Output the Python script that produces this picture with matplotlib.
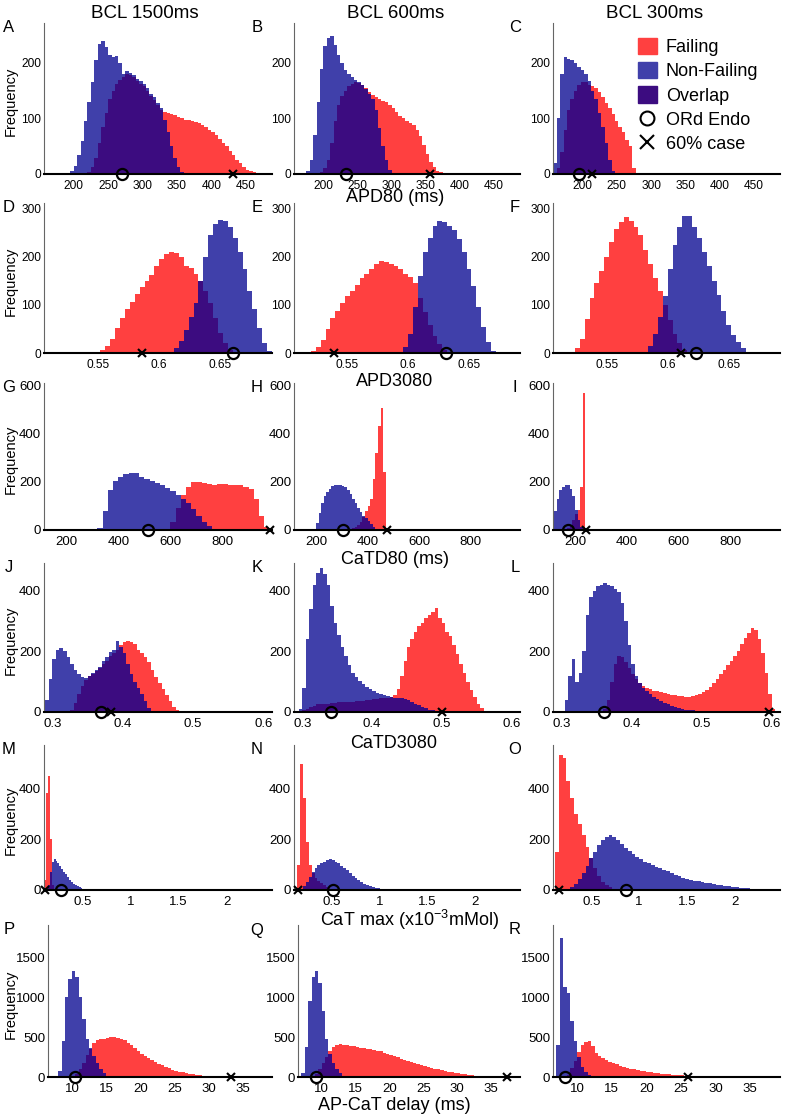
import numpy as np
import matplotlib
matplotlib.use('Agg')
import matplotlib.pyplot as plt
from matplotlib.patches import Patch
from matplotlib.lines import Line2D

plt.rcParams['font.family'] = ['Liberation Sans', 'DejaVu Sans']
plt.rcParams['mathtext.default'] = 'regular'

RED = '#ff4040'
BLUE = '#4040aa'
PURPLE = '#3c0c80'
NARROW = ['Liberation Sans Narrow', 'Liberation Sans', 'DejaVu Sans']

# ---- data: bin width, first bin edge and counts for Failing / Non-Failing ----
# row 1: APD80 (ms)
A_w = 5
A_fail0 = 220
A_fail = [3, 12, 28, 55, 85, 110, 135, 150, 162, 170, 175, 180, 178, 174, 168, 163, 158, 150, 140, 133,
          125, 115, 112, 110, 108, 106, 103, 100, 98, 97, 95, 93, 91, 88, 84, 80, 75, 70, 63, 56,
          50, 42, 34, 26, 19, 13, 8, 5, 3, 2, 1, 1]
A_nonf0 = 195
A_nonf = [5, 15, 35, 60, 95, 130, 165, 205, 235, 240, 228, 215, 210, 212, 200, 180, 185, 182, 178, 172,
          168, 162, 155, 145, 138, 128, 118, 98, 75, 50, 28, 12, 3]
A_ord, A_60 = 270, 432

B_w = 5
B_fail0 = 195
B_fail = [3, 10, 25, 55, 95, 125, 140, 150, 158, 163, 166, 164, 160, 155, 148, 142, 138, 135, 132, 130,
          125, 118, 112, 105, 100, 96, 92, 88, 80, 68, 52, 36, 22, 12, 6, 3, 1]
B_nonf0 = 175
B_nonf = [5, 25, 70, 130, 190, 230, 245, 248, 232, 215, 200, 188, 180, 174, 170, 166, 160, 153, 145, 135,
          115, 82, 50, 25, 8, 2]
B_ord, B_60 = 233, 356

C_w = 5
C_fail0 = 160
C_fail = [0, 10, 40, 80, 115, 135, 150, 160, 165, 165, 160, 158, 155, 148, 138, 128, 118, 108, 95, 85,
          75, 62, 50, 10]
C_nonf0 = 157.5
C_nonf = [20, 100, 180, 210, 208, 205, 200, 193, 187, 180, 167, 150, 135, 110, 85, 55, 25, 5]
C_ord, C_60 = 195, 214

# row 2: APD3080
D_w = 0.004
D_fail0 = 0.548
D_fail = [2, 6, 14, 30, 52, 72, 92, 106, 122, 138, 150, 162, 180, 196, 205, 210, 208, 200, 182, 176,
          165, 150, 128, 104, 72, 42, 20, 6, 1]
D_nonf0 = 0.608
D_nonf = [2, 10, 25, 48, 75, 105, 150, 200, 245, 268, 277, 274, 262, 240, 210, 175, 130, 92, 52, 20, 4]
D_ord, D_60 = 0.660, 0.586

E_w = 0.004
E_fail0 = 0.516
E_fail = [2, 5, 12, 28, 50, 72, 88, 105, 118, 130, 142, 155, 165, 175, 185, 192, 190, 186, 180, 175,
          165, 158, 145, 115, 85, 58, 35, 18, 6, 1]
E_nonf0 = 0.592
E_nonf = [2, 12, 40, 95, 160, 210, 240, 265, 275, 272, 265, 255, 238, 210, 175, 140, 95, 55, 22, 4]
E_ord, E_60 = 0.631, 0.539

F_w = 0.004
F_fail0 = 0.520
F_fail = [2, 10, 30, 70, 115, 145, 170, 200, 230, 258, 272, 282, 275, 262, 245, 215, 185, 155, 128, 100,
          68, 40, 20, 6, 1]
F_nonf0 = 0.580
F_nonf = [2, 15, 40, 75, 118, 175, 225, 262, 285, 285, 262, 240, 210, 182, 150, 120, 88, 58, 38, 22,
          10, 3]
F_ord, F_60 = 0.623, 0.611

# row 3: CaTD80 (ms)
G_w = 20
G_fail0 = 580
G_fail = [5, 35, 90, 145, 180, 198, 200, 195, 190, 188, 192, 190, 188, 186, 185, 180, 170, 130, 60, 12]
G_nonf0 = 320
G_nonf = [10, 80, 165, 205, 222, 232, 238, 235, 222, 212, 205, 195, 185, 175, 160, 145, 128, 110, 88, 60,
          35, 15, 4]
G_ord, G_60 = 513, 982

H_w = 10
H_fail0 = 300
H_fail = [2, 3, 4, 6, 9, 14, 22, 35, 55, 80, 100, 130, 210, 320, 430, 505, 240, 10]
H_nonf0 = 190
H_nonf = [5, 30, 70, 110, 140, 158, 172, 182, 188, 188, 186, 182, 178, 165, 148, 130, 110, 90, 75, 60,
          48, 38, 25, 14, 6, 2]
H_ord, H_60 = 305, 475

I_w = 10
I_fail0 = 160
I_fail = [2, 8, 18, 40, 65, 85, 180, 570]
I_nonf0 = 110
I_nonf = [30, 80, 130, 165, 180, 188, 185, 170, 140, 85, 40, 12, 2]
I_ord, I_60 = 171, 244

# row 4: CaTD3080
J_w = 0.005
J_fail0 = 0.325
J_fail = [5, 30, 60, 85, 105, 118, 125, 135, 145, 158, 170, 185, 195, 205, 220, 232, 235, 232, 225, 205,
          195, 180, 165, 140, 115, 95, 75, 55, 35, 18, 6, 1]
J_nonf0 = 0.290
J_nonf = [40, 110, 175, 205, 212, 200, 180, 160, 140, 125, 115, 112, 120, 130, 138, 150, 168, 182, 198, 205,
          235, 215, 195, 160, 125, 100, 78, 58, 35, 12, 2]
J_ord, J_60 = 0.369, 0.383

K_w = 0.005
K_fail0 = 0.300
K_fail = [5, 10, 15, 20, 25, 25, 28, 28, 30, 30, 32, 32, 32, 34, 34, 35, 36, 37, 38, 40,
          42, 44, 45, 46, 47, 48, 55, 75, 120, 170, 215, 240, 265, 285, 295, 310, 320, 330, 345, 310,
          295, 265, 250, 220, 190, 160, 130, 100, 72, 50, 28, 12, 3]
K_nonf0 = 0.295
K_nonf = [10, 80, 240, 340, 420, 460, 475, 455, 420, 350, 295, 255, 215, 185, 155, 130, 115, 102, 92, 82,
          75, 68, 62, 58, 55, 52, 50, 47, 45, 45, 42, 38, 32, 28, 22, 16, 12, 8, 5, 3, 1]
K_ord, K_60 = 0.341, 0.500

L_w = 0.005
L_fail0 = 0.360
L_fail = [10, 40, 100, 160, 185, 180, 165, 145, 125, 108, 95, 85, 80, 75, 70, 68, 65, 62, 60, 57,
          55, 53, 52, 50, 50, 52, 55, 58, 65, 72, 82, 95, 110, 125, 140, 155, 170, 185, 200, 225,
          245, 262, 278, 270, 240, 195, 130, 60, 10]
L_nonf0 = 0.305
L_nonf = [40, 120, 175, 100, 130, 200, 320, 380, 400, 415, 420, 425, 420, 415, 405, 395, 360, 300, 220, 160,
          120, 95, 80, 68, 58, 50, 42, 36, 30, 25, 20, 16, 12, 10, 8, 6, 5, 4, 3, 2, 1]
L_ord, L_60 = 0.361, 0.596

# row 5: CaT max
M_w = 0.02
M_fail0 = 0.10
M_fail = [40, 380, 450, 200, 20]
M_nonf0 = 0.14
M_nonf = [20, 70, 110, 120, 115, 105, 95, 82, 72, 62, 50, 40, 32, 25, 20, 15, 10, 7, 5, 3, 2, 1]
M_ord, M_60 = 0.277, 0.110

N_w = 0.03
N_fail0 = 0.135
N_fail = [100, 495, 360, 190, 100, 65, 47, 35, 26, 18, 10, 5, 2]
N_nonf0 = 0.165
N_nonf = [5, 15, 30, 50, 70, 85, 98, 106, 112, 118, 120, 118, 112, 105, 96, 88, 78, 68, 57, 47,
          38, 30, 23, 18, 14, 11, 9, 7, 5, 4, 3, 2, 1]
N_ord, N_60 = 0.511, 0.147

O_w = 0.04
O_fail0 = 0.12
O_fail = [150, 530, 520, 430, 360, 300, 258, 215, 170, 125, 88, 55, 32, 20, 10, 5, 2]
O_nonf0 = 0.24
O_nonf = [3, 10, 25, 45, 68, 95, 125, 150, 175, 195, 208, 215, 210, 195, 180, 165, 152, 140, 130, 122,
          112, 105, 98, 92, 85, 80, 74, 66, 58, 54, 48, 44, 40, 36, 34, 31, 28, 26, 23, 21,
          19, 16, 14, 12, 10, 8, 7, 6, 5, 3, 1]
O_ord, O_60 = 0.86, 0.163

# row 6: AP-CaT delay (ms)
P_w = 0.5
P_fail0 = 10.5
P_fail = [40, 100, 180, 270, 350, 420, 460, 475, 480, 490, 495, 500, 490, 480, 460, 430, 400, 360, 325, 290,
          260, 235, 210, 190, 165, 145, 125, 108, 92, 80, 68, 58, 50, 42, 35, 28, 22, 17, 13, 10,
          7, 5, 3, 2]
P_nonf0 = 8.0
P_nonf = [80, 450, 1000, 1230, 1320, 1250, 1000, 720, 480, 360, 260, 170, 100, 45, 15, 3]
P_ord, P_60 = 10.45, 33.3

Q_w = 0.5
Q_fail0 = 9.0
Q_fail = [40, 100, 170, 250, 320, 380, 400, 410, 405, 400, 392, 385, 375, 368, 360, 352, 345, 338, 330, 320,
          305, 290, 275, 260, 245, 230, 215, 200, 188, 176, 165, 152, 140, 130, 118, 106, 95, 85, 76, 68,
          60, 52, 45, 38, 32, 27, 22, 18, 14, 11, 8, 6, 4, 2]
Q_nonf0 = 7.0
Q_nonf = [50, 380, 950, 1250, 1330, 1180, 820, 480, 290, 170, 100, 50, 15, 3]
Q_ord, Q_60 = 9.1, 37.4

R_w = 0.5
R_fail0 = 8.5
R_fail = [30, 110, 200, 310, 400, 440, 450, 390, 300, 260, 235, 210, 190, 172, 158, 143, 130, 118, 106, 96,
          88, 80, 73, 66, 60, 54, 48, 43, 38, 34, 30, 27, 24, 21, 18, 15, 13, 11, 9, 7,
          6, 5, 4, 3, 2]
R_nonf0 = 7.0
R_nonf = [400, 1740, 1130, 1050, 700, 450, 250, 130, 60, 20, 5]
R_ord, R_60 = 8.3, 26.0

row_xlim = [(157, 488), (0.506, 0.692), (115, 990), (0.288, 0.612), (0.1, 2.47), (6.5, 39.3)]
row_ymax = [272, 312, 610, 492, 570, 1900]
row_xticks = [[200, 250, 300, 350, 400, 450], [0.55, 0.6, 0.65], [200, 400, 600, 800],
              [0.3, 0.4, 0.5, 0.6], [0.5, 1, 1.5, 2], [10, 15, 20, 25, 30, 35]]
row_yticks = [[0, 100, 200], [0, 100, 200, 300], [0, 200, 400, 600], [0, 200, 400],
              [0, 200, 400], [0, 500, 1000, 1500]]
row_xlabel = ['APD80 (ms)', 'APD3080', 'CaTD80 (ms)', 'CaTD3080',
              'CaT max (x10$^{-3}$mMol)', 'AP-CaT delay (ms)']
col_title = ['BCL 1500ms', 'BCL 600ms', 'BCL 300ms']

panels = [
    ('A', A_w, A_fail0, A_fail, A_nonf0, A_nonf, A_ord, A_60),
    ('B', B_w, B_fail0, B_fail, B_nonf0, B_nonf, B_ord, B_60),
    ('C', C_w, C_fail0, C_fail, C_nonf0, C_nonf, C_ord, C_60),
    ('D', D_w, D_fail0, D_fail, D_nonf0, D_nonf, D_ord, D_60),
    ('E', E_w, E_fail0, E_fail, E_nonf0, E_nonf, E_ord, E_60),
    ('F', F_w, F_fail0, F_fail, F_nonf0, F_nonf, F_ord, F_60),
    ('G', G_w, G_fail0, G_fail, G_nonf0, G_nonf, G_ord, G_60),
    ('H', H_w, H_fail0, H_fail, H_nonf0, H_nonf, H_ord, H_60),
    ('I', I_w, I_fail0, I_fail, I_nonf0, I_nonf, I_ord, I_60),
    ('J', J_w, J_fail0, J_fail, J_nonf0, J_nonf, J_ord, J_60),
    ('K', K_w, K_fail0, K_fail, K_nonf0, K_nonf, K_ord, K_60),
    ('L', L_w, L_fail0, L_fail, L_nonf0, L_nonf, L_ord, L_60),
    ('M', M_w, M_fail0, M_fail, M_nonf0, M_nonf, M_ord, M_60),
    ('N', N_w, N_fail0, N_fail, N_nonf0, N_nonf, N_ord, N_60),
    ('O', O_w, O_fail0, O_fail, O_nonf0, O_nonf, O_ord, O_60),
    ('P', P_w, P_fail0, P_fail, P_nonf0, P_nonf, P_ord, P_60),
    ('Q', Q_w, Q_fail0, Q_fail, Q_nonf0, Q_nonf, Q_ord, Q_60),
    ('R', R_w, R_fail0, R_fail, R_nonf0, R_nonf, R_ord, R_60),
]

# ---- layout (pixels) ----
W, H = 786, 1117
fig = plt.figure(figsize=(W / 100, H / 100), dpi=100)
row_top = [23, 203, 383, 563, 745, 925]
row_bot = [174, 353, 530, 712, 890, 1077]
col_left = [[44, 294, 553]] * 5 + [[48, 298, 553]]
col_right = [272, 520, 780]
letter_x = [9, 257, 515]
xlabel_pos = [(395, 198), (395, 381), (395, 560), (394, 743), (409, 920), (394, 1105)]
title_pos = [(145, 13), (396, 13), (655, 13)]


def fx(px):
    return px / W


def fy(py):
    return 1 - py / H


def draw(ax, w, f0, fail, n0, nonf, ord_x, case_x):
    lo = min(f0, n0)
    i_f = int(round((f0 - lo) / w))
    i_n = int(round((n0 - lo) / w))
    nb = max(i_f + len(fail), i_n + len(nonf))
    edges = lo + w * np.arange(nb + 1)
    fv = np.zeros(nb)
    nv = np.zeros(nb)
    fv[i_f:i_f + len(fail)] = fail
    nv[i_n:i_n + len(nonf)] = nonf
    ax.stairs(fv, edges, fill=True, color=RED, lw=0)
    ax.stairs(nv, edges, fill=True, color=BLUE, lw=0)
    ax.stairs(np.minimum(fv, nv), edges, fill=True, color=PURPLE, lw=0)
    ax.plot([ord_x], [0], 'o', mfc='none', mec='k', ms=8, mew=1.6, clip_on=False, zorder=6)
    ax.plot([case_x], [0], 'x', color='k', ms=6, mew=1.5, clip_on=False, zorder=6)


for k, (letter, w, f0, fail, n0, nonf, ord_x, case_x) in enumerate(panels):
    r, c = divmod(k, 3)
    l = col_left[r][c]
    ax = fig.add_axes([fx(l), fy(row_bot[r]), (col_right[c] - l) / W,
                       (row_bot[r] - row_top[r]) / H])
    draw(ax, w, f0, fail, n0, nonf, ord_x, case_x)
    ax.set_xlim(*row_xlim[r])
    ax.set_ylim(0, row_ymax[r])
    ax.spines['top'].set_visible(False)
    ax.spines['right'].set_visible(False)
    ax.spines['left'].set_color('#666666')
    ax.spines['left'].set_linewidth(0.8)
    ax.spines['bottom'].set_color('black')
    ax.spines['bottom'].set_linewidth(1.5)
    ax.spines['bottom'].set_zorder(5)
    ax.set_xticks(row_xticks[r])
    ax.set_xticklabels(['%g' % t for t in row_xticks[r]])
    ax.set_yticks(row_yticks[r])
    ax.set_yticklabels(['%g' % t for t in row_yticks[r]])
    ax.tick_params(length=0, pad=2)
    ax.tick_params(axis='x', pad=4)
    fam = ['Liberation Sans', 'DejaVu Sans'] if r < 2 else NARROW
    size = 8.6 if r < 2 else 9.5
    for t in ax.get_xticklabels() + ax.get_yticklabels():
        t.set_fontfamily(fam)
        t.set_fontsize(size)
    fig.text(fx(letter_x[c]), fy(row_top[r] + 5), letter, fontsize=12, ha='center', va='center')
    if c == 0:
        fig.text(fx(11), fy((row_top[r] + row_bot[r]) / 2 + 3), 'Frequency', rotation=90,
                 fontsize=10.5, ha='center', va='center')
    if c == 2 and r == 0:
        handles = [Patch(color=RED), Patch(color=BLUE), Patch(color=PURPLE),
                   Line2D([], [], marker='o', ls='none', mfc='none', mec='k', ms=10, mew=1.5),
                   Line2D([], [], marker='x', ls='none', color='k', ms=10, mew=1.5)]
        labels = ['Failing', 'Non-Failing', 'Overlap', 'ORd Endo', '60% case']
        ax.legend(handles, labels, loc='upper left', bbox_to_anchor=(fx(638), fy(38)),
                  bbox_transform=fig.transFigure, frameon=False, fontsize=13,
                  handlelength=1.05, handleheight=1.0, handletextpad=0.5,
                  labelspacing=0.33, borderpad=0, borderaxespad=0)

for r in range(6):
    x, y = xlabel_pos[r]
    fig.text(fx(x), fy(y), row_xlabel[r], fontsize=13, ha='center', va='center')
for c in range(3):
    x, y = title_pos[c]
    fig.text(fx(x), fy(y), col_title[c], fontsize=13.5, ha='center', va='center')

fig.savefig('out.png', dpi=100)
